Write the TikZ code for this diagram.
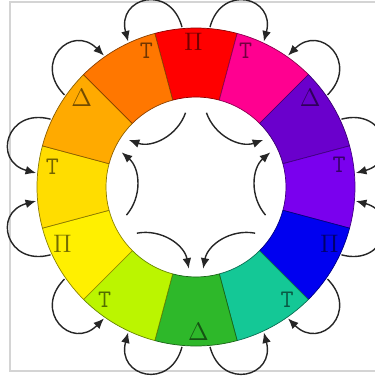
\documentclass[tikz,border=0pt]{standalone}
\usepackage{tikz}
\usetikzlibrary{arrows.meta}
\definecolor{wred}{HTML}{FF0000}
\definecolor{wpink}{HTML}{FF0090}
\definecolor{wpurple}{HTML}{6A00CC}
\definecolor{wviolet}{HTML}{7A00EE}
\definecolor{wblue}{HTML}{0000F0}
\definecolor{wteal}{HTML}{14C896}
\definecolor{wgreen}{HTML}{2EB82A}
\definecolor{wlime}{HTML}{BBF500}
\definecolor{wyellow}{HTML}{FFF000}
\definecolor{wgold}{HTML}{FFDD00}
\definecolor{wamber}{HTML}{FFAA00}
\definecolor{worange}{HTML}{FF7700}
\definecolor{wframe}{HTML}{D4D4D4}

\begin{document}
\begin{tikzpicture}[
  seg/.style={fill=#1, draw=#1!55!black, line width=0.4pt},
  lab/.style={text=#1!45!black, inner sep=0pt, font=\Large},
  loopar/.style={draw=black!85, line width=0.8pt,
                 -{Latex[length=6pt,width=5pt]}, looseness=2.1},
  innar/.style={draw=black!85, line width=0.8pt,
                -{Latex[length=6pt,width=5pt]}}
]
\useasboundingbox (-3.92,-3.78) rectangle (3.58,3.74);
\draw[wframe, line width=0.6pt] (3.58,3.70) -- (-3.72,3.70)
  -- (-3.72,-3.68) -- (3.58,-3.68);

%% colour segments
\foreach \col [count=\i from 0] in {wred,wpink,wpurple,wviolet,wblue,wteal,
                                   wgreen,wlime,wyellow,wgold,wamber,worange}{
  \pgfmathsetmacro\a{90-30*\i}
  \draw[seg=\col] (\a-15:3.18) arc[start angle=\a-15, end angle=\a+15, radius=3.18]
    -- (\a+15:1.8) arc[start angle=\a+15, end angle=\a-15, radius=1.8] -- cycle;
  \coordinate (o\i a) at (\a+5:3.21);
  \coordinate (o\i b) at (\a-5:3.21);
  \coordinate (p\i a) at (\a+8:1.5);
  \coordinate (p\i b) at (\a-8:1.5);
  \coordinate (q\i a) at (\a+5:1.64);
  \coordinate (q\i b) at (\a-5:1.64);
}

%% labels
\foreach \txt/\ang/\col [count=\i from 0] in {{$\Pi$}/91/wred, \texttt{T}/70/wpink,
    {$\Delta$}/38/wpurple, \texttt{T}/9/wviolet, {$\Pi$}/-23/wblue,
    \texttt{T}/-51/wteal, {$\Delta$}/-89/wgreen, \texttt{T}/-129/wlime,
    {$\Pi$}/-157/wyellow, \texttt{T}/172/wgold, {$\Delta$}/142/wamber,
    \texttt{T}/110/worange}
  \node[lab=\col] (l\i) at (\ang:2.9) {\txt};

%% outer loops
\foreach \s/\t/\b in {0b/1a/75, 2a/1b/45, 2b/3a/15, 4a/3b/-15, 4b/5a/-45,
                      6a/5b/-75, 6b/7a/-105, 8a/7b/-135, 8b/9a/-165,
                      10a/9b/165, 10b/11a/135, 0a/11b/105}
  \draw[loopar] (o\s) to[out=\b, in=\b] (o\t);

%% inner arrows
\foreach \s/\t/\bd in {0b/2a/right, 0a/10b/left, 4a/2b/left,
                       4b/6a/right, 8a/6b/left, 8b/10a/right}
  \draw[innar] (p\s) to[bend \bd=45] (q\t);

\end{tikzpicture}
\end{document}
